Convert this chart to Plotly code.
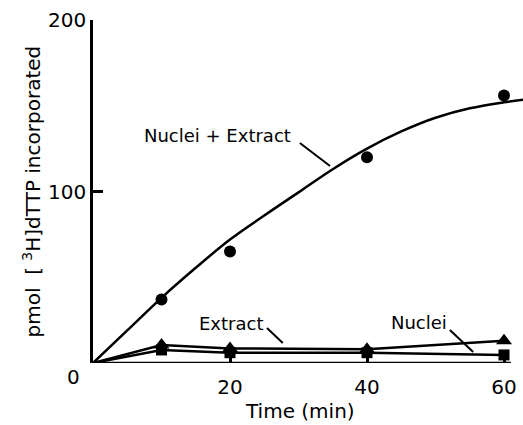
import plotly.graph_objects as go

# Data
time_pts = [10, 20, 40, 60]
nuclei_extract = [37, 65, 120, 156]

fit_time = [0, 5, 10, 15, 20, 25, 30, 35, 40, 45, 50, 55, 60, 62.8]
fit_vals = [0, 19, 38, 55.5, 72, 86, 99.5, 113, 125, 135, 143, 148.5, 152, 153.5]

line_time = [0, 10, 20, 40, 60]
extract = [0, 10.5, 8.5, 8, 13]
nuclei = [0, 7.6, 6, 6, 4.7]

x_ticks = [20, 40, 60]
y_ticks = [100, 200]

FONT = "DejaVu Sans"
fig = go.Figure()

fig.add_trace(go.Scatter(x=fit_time, y=fit_vals, mode="lines", line=dict(color="black", width=2.5, shape="spline"),
                         cliponaxis=False, showlegend=False))
fig.add_trace(go.Scatter(x=time_pts, y=nuclei_extract, mode="markers",
                         marker=dict(symbol="circle", size=12, color="black"), cliponaxis=False, showlegend=False))
fig.add_trace(go.Scatter(x=line_time, y=extract, mode="lines",
                         line=dict(color="black", width=2.5), cliponaxis=False, showlegend=False))
fig.add_trace(go.Scatter(x=line_time, y=nuclei, mode="lines",
                         line=dict(color="black", width=2.5), cliponaxis=False, showlegend=False))
fig.add_trace(go.Scatter(x=line_time[1:], y=extract[1:], mode="markers",
                         marker=dict(symbol="triangle-up", size=14, color="black", line=dict(width=0)),
                         cliponaxis=False, showlegend=False))
fig.add_trace(go.Scatter(x=line_time[1:], y=nuclei[1:], mode="markers",
                         marker=dict(symbol="square", size=11, color="black", line=dict(width=0)),
                         cliponaxis=False, showlegend=False))

# x axis baseline
fig.add_shape(type="line", x0=0, x1=61, y0=0, y1=0, xref="x", yref="y", line=dict(color="black", width=2.5))

# leader lines
leaders = [((30.2, 128.3), (34.6, 114.9)), ((25.4, 20.4), (27.7, 11.7)), ((52.1, 19.2), (55.5, 6.4))]
for (a, b) in leaders:
    fig.add_shape(type="line", x0=a[0], y0=a[1], x1=b[0], y1=b[1], xref="x", yref="y",
                  line=dict(color="black", width=2))

labels = [("Nuclei + Extract", 18.2, 132.9), ("Extract", 20.1, 23.3), ("Nuclei", 47.6, 23.9)]
for t, x, y in labels:
    fig.add_annotation(text=t, x=x, y=y, xref="x", yref="y", showarrow=False,
                       font=dict(family=FONT, size=18, color="black"), xanchor="center", yanchor="middle")

fig.add_annotation(text="0", x=0, y=0, xref="x", yref="y", showarrow=False, xshift=-20, yshift=-14,
                   font=dict(family=FONT, size=20, color="black"))
fig.add_annotation(text="Time (min)", x=30.2, y=0, xref="x", yref="paper", showarrow=False, yshift=-48,
                   font=dict(family=FONT, size=20, color="black"), yanchor="middle")
fig.add_annotation(text="pmol  [ <sup>3</sup>H]dTTP incorporated", x=0, y=0.5, xref="paper", yref="paper",
                   showarrow=False, xshift=-62, textangle=-90,
                   font=dict(family=FONT, size=20, color="black"), xanchor="center", yanchor="middle")

fig.update_xaxes(range=[0, 430 / 6.85], tickvals=x_ticks, ticktext=[str(v) for v in x_ticks],
                 ticks="inside", ticklen=8, tickwidth=2.5, tickcolor="black",
                 showline=False, showgrid=False, zeroline=False, ticklabelstandoff=10,
                 tickfont=dict(family=FONT, size=20, color="black"))
fig.update_yaxes(range=[0, 200], tickvals=y_ticks, ticktext=[str(v) for v in y_ticks],
                 ticks="inside", ticklen=10, tickwidth=2.5, tickcolor="black",
                 showline=True, linewidth=2.5, linecolor="black", showgrid=False, zeroline=False,
                 ticklabelposition="outside", tickfont=dict(family=FONT, size=20, color="black"))

fig.update_layout(width=523, height=425, margin=dict(l=93, r=0, t=20, b=62),
                  plot_bgcolor="white", paper_bgcolor="white")

fig.write_html("out.html")
